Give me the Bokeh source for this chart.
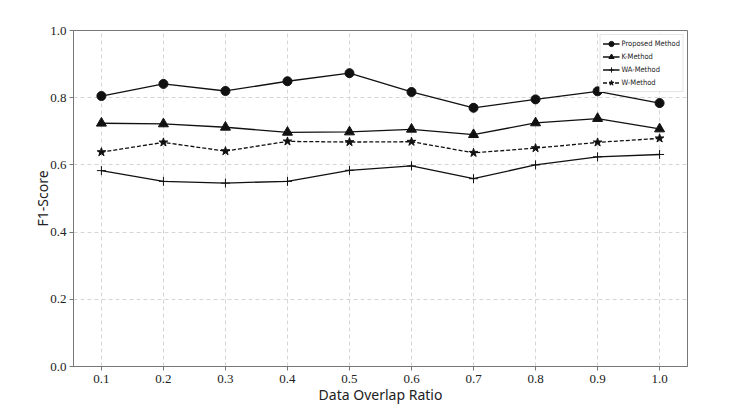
from bokeh.plotting import figure
from bokeh.models import FixedTicker, NumeralTickFormatter, Legend, LegendItem, Range1d
from bokeh.embed import file_html
from bokeh.resources import INLINE

ratios = [0.1, 0.2, 0.3, 0.4, 0.5, 0.6, 0.7, 0.8, 0.9, 1.0]
proposed = [0.805, 0.841, 0.820, 0.849, 0.873, 0.817, 0.770, 0.795, 0.819, 0.784]
k_method = [0.724, 0.722, 0.712, 0.697, 0.698, 0.706, 0.690, 0.725, 0.738, 0.707]
wa_method = [0.583, 0.551, 0.546, 0.551, 0.584, 0.597, 0.559, 0.600, 0.624, 0.631]
w_method = [0.638, 0.667, 0.641, 0.670, 0.668, 0.669, 0.636, 0.650, 0.667, 0.679]
y_ticks = [0.0, 0.2, 0.4, 0.6, 0.8, 1.0]

p = figure(width=740, height=406, output_backend="svg", toolbar_location=None,
           x_range=Range1d(0.055, 1.045), y_range=Range1d(0.0, 1.0),
           min_border_left=73, min_border_right=53, min_border_top=30, min_border_bottom=36)
p.background_fill_color = "white"
p.border_fill_color = "white"
p.outline_line_color = "#777777"
p.outline_line_width = 1

p.xaxis.ticker = FixedTicker(ticks=ratios)
p.yaxis.ticker = FixedTicker(ticks=y_ticks)
p.xaxis.formatter = NumeralTickFormatter(format="0.0")
p.yaxis.formatter = NumeralTickFormatter(format="0.0")
for ax in (p.xaxis, p.yaxis):
    ax.major_label_text_font = "Liberation Serif"
    ax.major_label_text_font_size = "13px"
    ax.major_label_text_color = "#222222"
    ax.axis_line_color = "#777777"
    ax.major_tick_line_color = "#777777"
    ax.major_tick_out = 4
    ax.major_tick_in = 0
    ax.minor_tick_line_color = None
    ax.axis_label_text_font = "Noto Sans"
    ax.axis_label_text_font_size = "14px"
    ax.axis_label_text_font_style = "normal"
    ax.axis_label_text_color = "#222222"
p.xaxis.axis_label = "Data Overlap Ratio"
p.yaxis.axis_label = "F1-Score"
p.xaxis.axis_label_standoff = -1
p.yaxis.axis_label_standoff = -5
p.xaxis.major_label_standoff = 4
p.yaxis.major_label_standoff = 3

p.grid.grid_line_color = "#cccccc"
p.grid.grid_line_dash = "4 3"
p.grid.grid_line_width = 0.8

c = "#111111"
l1 = p.line(ratios, proposed, line_color=c, line_width=1.3)
s1 = p.scatter(ratios, proposed, marker="circle", size=9, fill_color=c, line_color=c)
l2 = p.line(ratios, k_method, line_color=c, line_width=1.3)
s2 = p.scatter(ratios, k_method, marker="triangle", size=10, fill_color=c, line_color=c)
l3 = p.line(ratios, wa_method, line_color=c, line_width=1.3)
s3 = p.scatter(ratios, wa_method, marker="cross", size=9, line_color=c, line_width=1)
l4 = p.line(ratios, w_method, line_color=c, line_width=1.3, line_dash="4 2")
s4 = p.scatter(ratios, w_method, marker="star", size=9, fill_color=c, line_color=c)

legend = Legend(items=[
    LegendItem(label="Proposed Method", renderers=[l1, s1]),
    LegendItem(label="K-Method", renderers=[l2, s2]),
    LegendItem(label="WA-Method", renderers=[l3, s3]),
    LegendItem(label="W-Method", renderers=[l4, s4]),
], location="top_right")
legend.label_text_font = "DejaVu Sans Condensed"
legend.label_text_font_size = "7.5px"
legend.label_text_color = "#222222"
legend.label_height = 13
legend.glyph_height = 13
legend.glyph_width = 17
legend.spacing = 0
legend.padding = 2
legend.margin = 4
legend.label_standoff = 2
legend.border_line_color = "#cccccc"
legend.border_line_width = 1
legend.background_fill_alpha = 1.0
p.add_layout(legend)

open("out.html", "w").write(file_html(p, INLINE))
